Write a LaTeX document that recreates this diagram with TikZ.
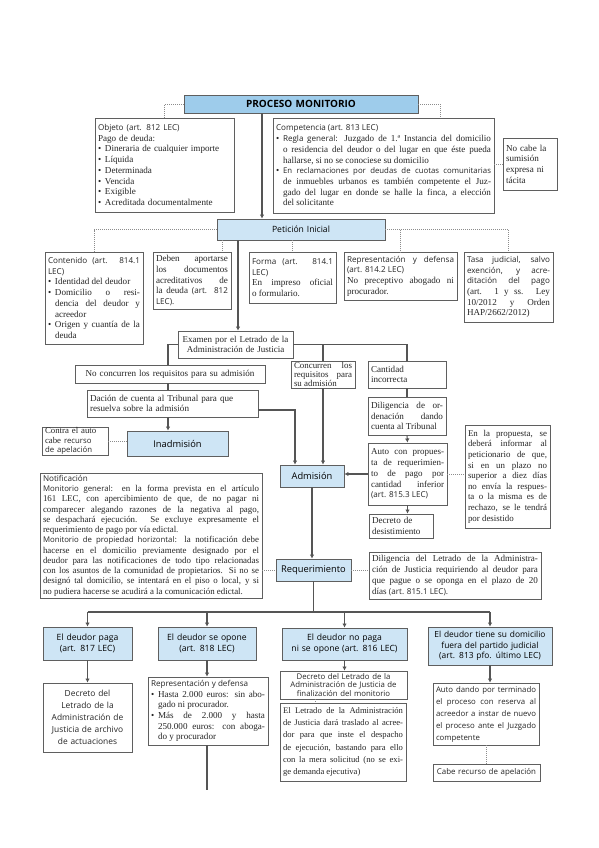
\documentclass[tikz,border=0pt]{standalone}
\usepackage{fontspec}
\setmainfont{Liberation Serif}
\newfontfamily\lab{Open Sans}
\usetikzlibrary{arrows.meta}
\definecolor{bord}{RGB}{95,95,95}
\definecolor{linec}{RGB}{85,85,85}
\definecolor{dotc}{RGB}{140,140,140}
\definecolor{bluet}{RGB}{158,204,235}
\definecolor{bluel}{RGB}{206,229,245}
\newcommand\parset{\tolerance=9999\hbadness=10000\hyphenpenalty=10000\relax}
\newcommand\fsA{\fontsize{9.1}{10.7}\selectfont\parset}
\newcommand\fsN{\fontsize{8.9}{10.25}\selectfont\parset}
\newcommand\fsB{\fontsize{9.3}{11}\selectfont\lab}
\newcommand\fsM{\fontsize{8.6}{10.8}\selectfont\lab}
\newcommand\fsS{\fontsize{8.1}{10.7}\selectfont\lab}
\newcommand\bul{\makebox[7pt][l]{\textbullet}}
\newcommand\hind{\hspace*{7pt}}
\newcommand\bx[7]{%
  \pgfmathsetmacro\bxw{#4-(#2)}%
  \pgfmathsetmacro\bxh{#5-(#3)}%
  \pgfmathsetmacro\bxx{(#2+#4)/2}%
  \pgfmathsetmacro\bxy{(#3+#5)/2}%
  \pgfmathsetmacro\bxt{#4-(#2)-6}%
  \node[#6, minimum width=\bxw pt, minimum height=\bxh pt, text width=\bxt pt] (#1) at (\bxx,\bxy) {#7};}
\begin{document}
\begin{tikzpicture}[x=1pt,y=-1pt,
  box/.style={draw=bord, line width=0.9pt, fill=white, inner xsep=3pt, inner ysep=0pt, text=black!85, font=\fsA, align=justify},
  lbox/.style={box, align=left},
  cbox/.style={box, align=center},
  bbox/.style={box, fill=bluel, align=center, font=\fsM, text=black},
  conn/.style={draw=linec, line width=1.1pt},
  arr/.style={conn, -{Latex[length=4pt,width=4.5pt]}},
  dot/.style={draw=dotc, line width=0.6pt, dash pattern=on 1pt off 1pt}]
\useasboundingbox (0,0) rectangle (599,848);
\fill[white] (0,0) rectangle (599,848);

\bx{title}{184}{95}{418}{113}{bbox, fill=bluet, font=\fontsize{10}{12}\selectfont\lab\bfseries}{PROCESO MONITORIO}
\bx{objeto}{95}{118}{234}{212}{lbox}{{\fsS Objeto (art. 812 LEC)}\\Pago de deuda:\\\bul Dineraria de cualquier importe\\\bul Líquida\\\bul Determinada\\\bul Vencida\\\bul Exigible\\\bul Acreditada documentalmente}
\bx{compet}{273}{118}{494}{213}{box}{{\fsS Competencia (art. 813 LEC)}\newline
\bul{\fsS Regla general}: Juzgado de 1.ª Instancia del domicilio\break
\hind o residencia del deudor o del lugar en que éste pueda\break
\hind hallarse, si no se conociese su domicilio\newline
\bul{\fontsize{7.8}{10.7}\selectfont\lab En reclamaciones por deudas de cuotas comunitarias}\break
\hind de inmuebles urbanos es también competente el Juz-\break
\hind gado del lugar en donde se halle la finca, a elección\break
\hind del solicitante}
\bx{nocabe}{503}{138}{557}{190}{lbox}{No cabe la\\sumisión\\expresa ni\\tácita}

\bx{petic}{217}{219}{385}{240}{bbox}{Petición Inicial}
\bx{conten}{45}{252}{143}{344}{box}{{\fsS Contenido (art. 814.1}\break{\fsS LEC)}\newline\bul Identidad del deudor\newline\bul Domicilio o resi-\break\hind dencia del deudor y\break\hind acreedor\newline\bul Origen y cuantía de la\break\hind deuda}
\bx{deben}{153}{252}{231}{309}{box}{Deben aportarse\break los documentos\break acreditativos de\break la deuda {\fsS (art. 812}\break{\fsS LEC).}}
\bx{forma}{249}{252}{336}{303}{box}{{\fsS Forma (art. 814.1}\break{\fsS LEC)}\newline En impreso oficial\break o formulario.}
\bx{repr}{344}{252}{457}{300}{box}{{\fsS Representación y defensa}\break{\fsS (art. 814.2 LEC)}\newline No preceptivo abogado ni\break procurador.}
\bx{tasa}{464}{252}{553}{322}{box}{{\fsS Tasa judicial, salvo}\break{\fsS exención, y acre-}\break{\fsS ditación del pago}\break (art. 1 y ss. Ley\break 10/2012 y Orden\break HAP/2662/2012)}

\bx{examen}{178}{331}{293}{358}{cbox, font=\fontsize{9}{10.7}\selectfont}{Examen por el Letrado de la\\Administración de Justicia}
\bx{noconc}{75}{365}{265}{383}{cbox}{No concurren los requisitos para su admisión}
\bx{dacion}{87}{390}{258}{417}{lbox}{Dación de cuenta al Tribunal para que\\resuelva sobre la admisión}
\bx{inadm}{127}{431}{228}{456}{bbox, font=\fsB}{Inadmisión}
\bx{contra}{42}{427}{108}{455}{lbox, font=\fontsize{8.8}{9.4}\selectfont}{Contra el auto\\cabe {\fontsize{7.8}{9.4}\selectfont\lab recurso}\\{\fontsize{7.8}{9.4}\selectfont\lab de apelación}}
\bx{concur}{291}{361}{355}{388}{box, font=\fontsize{8.9}{9.4}\selectfont\parset}{Concurren los\break requisitos para\break su admisión}
\bx{cantid}{368}{361}{446}{388}{lbox}{Cantidad\\incorrecta}
\bx{dilig}{368}{397}{446}{435}{box}{Diligencia de or-\break denación dando\break cuenta al Tribunal}
\bx{auto}{368}{443}{447}{505}{box, font=\fontsize{9}{10.7}\selectfont\parset}{Auto con propues-\break ta de requerimien-\break to de pago por\break cantidad inferior\break{\fsS (art. 815.3 LEC)}}
\bx{desist}{369}{514}{433}{538}{lbox}{Decreto de\\desistimiento}
\bx{propu}{465}{425}{550}{528}{box, font=\fontsize{8.9}{10.6}\selectfont\parset}{En la propuesta, se\break deberá informar al\break peticionario de que,\break si en un plazo no\break superior a diez días\break no envía la respues-\break ta o la misma es de\break rechazo, se le tendrá\break por desistido}
\bx{admis}{280}{465}{344}{487}{bbox, font=\fsB}{Admisión}
\bx{notif}{40}{473}{262}{598}{box, font=\fsN}{{\fsS Notificación}\newline
{\fontsize{7.8}{10.25}\selectfont\lab Monitorio general}: en la forma prevista en el artículo\break
161 LEC, con apercibimiento de que, de no pagar ni\break
comparecer alegando razones de la negativa al pago,\break
se despachará ejecución. Se excluye expresamente el\break
requerimiento de pago por vía edictal.\newline
{\fontsize{7.8}{10.25}\selectfont\lab Monitorio de propiedad horizontal}: la notificación debe\break
hacerse en el domicilio previamente designado por el\break
deudor para las notificaciones de todo tipo relacionadas\break
con los asuntos de la comunidad de propietarios. Si no se\break
designó tal domicilio, se intentará en el piso o local, y si\break
no pudiera hacerse se acudirá a la comunicación edictal.}
\bx{requer}{276}{559}{351}{581}{bbox, font=\fsB}{Requerimiento}
\bx{dilet}{369}{552}{541}{599}{box}{Diligencia del Letrado de la Administra-\break
ción de Justicia requiriendo al deudor para\break
que pague o se oponga en el plazo de 20\break
días {\fsS (art. 815.1 LEC)}.}

\bx{paga}{43}{627}{132}{660}{bbox}{El deudor paga\\(art. 817 LEC)}
\bx{opone}{158}{627}{256}{660}{bbox}{El deudor se opone\\(art. 818 LEC)}
\bx{nopaga}{282}{628}{407}{660}{bbox}{El deudor no paga\\ni se opone (art. 816 LEC)}
\bx{tiene}{428}{627}{552}{665}{bbox, font=\fontsize{8.4}{10.6}\selectfont\lab}{El deudor tiene su domicilio\\fuera del partido judicial\\(art. 813 pfo. último LEC)}
\bx{archivo}{43}{683}{132}{752}{cbox, font=\fontsize{8.4}{12}\selectfont\lab}{Decreto del\\Letrado de la\\Administración de\\Justicia de archivo\\de actuaciones}
\bx{repr2}{148}{677}{268}{745}{box}{{\fsS Representación y defensa}\newline
\bul Hasta 2.000 euros: sin abo-\break\hind gado ni procurador.\newline
\bul Más de 2.000 y hasta\break\hind 250.000 euros: con aboga-\break\hind do y procurador}
\bx{final}{280}{671}{407}{699}{cbox, font=\fontsize{7.8}{8.5}\selectfont\lab}{Decreto del Letrado de la\\Administración de Justicia de\\finalización del monitorio}
\bx{letr}{280}{703}{406}{781}{box, font=\fontsize{8.6}{12.2}\selectfont\parset}{El Letrado de la Administración\break de Justicia dará traslado al acree-\break dor para que inste el despacho\break de ejecución, bastando para ello\break con la mera solicitud (no se exi-\break ge demanda ejecutiva)}
\bx{autod}{433}{683}{539}{745}{box, font=\fontsize{7.8}{12}\selectfont\lab\parset}{Auto dando por terminado\break el proceso con reserva al\break acreedor a instar de nuevo\break el proceso ante el Juzgado\break competente}
\bx{cabe}{433}{764}{540}{781}{cbox, font=\fontsize{7.9}{10}\selectfont\lab}{Cabe recurso de apelación}

% coordinates for connector x/y positions
\coordinate (xT) at (262,0);
\coordinate (xC) at (440,0);
\coordinate (xD) at (222,0);
\coordinate (xE) at (238,0);
\coordinate (xL) at (168,0);
\coordinate (xA) at (295,0);
\coordinate (yA) at (0,410);
\coordinate (yB) at (0,612);
\coordinate (yE) at (0,790);
\coordinate (xF) at (315,0);

% top
\draw[arr] (title.south -| xT) -- (petic.north -| xT);
\draw[dot] (title.west) -| (objeto.north);
\draw[dot] (title.east) -| (compet.north -| xC);
\draw[dot] (compet.east |- nocabe.west) -- (nocabe.west);
% peticion
\draw[dot] (petic.west) -| (conten.north);
\draw[dot] (petic.south -| xD) -- (deben.north -| xD);
\draw[dot] (petic.south -| forma.north) -- (forma.north);
\draw[dot] (petic.east) -| (tasa.north);
\draw[dot] (petic.east -| repr.north) -- (repr.north);
\draw[arr] (petic.south -| xE) -- (examen.north -| xE);
% examen
\draw[conn] (examen.west) -| (noconc.north -| xL);
\draw[conn] (examen.east) -| (cantid.north);
\draw[conn] (examen.east -| concur.north) -- (concur.north);
\draw[conn] (noconc.south -| xL) -- (dacion.north -| xL);
\draw[arr] (dacion.south -| xL) -- (inadm.north -| xL);
\draw[arr] (dacion.east |- yA) -| (admis.north -| xA);
\draw[arr] (concur.south) -- (concur.south |- admis.north);
\draw[conn] (cantid.south) -- (dilig.north);
\draw[arr] (dilig.south) -- (auto.north);
\draw[arr] (auto.south) -- (auto.south |- desist.north);
\draw[arr] (auto.west) -- (auto.west -| admis.east);
\draw[dot] (auto.east) -- (auto.east -| propu.west);
\draw[dot] (contra.east) -- (contra.east -| inadm.west);
% admision / requerimiento
\draw[arr] (admis.south) -- (admis.south |- requer.north);
\draw[dot] (notif.east |- requer.west) -- (requer.west);
\draw[dot] (requer.east) -- (requer.east -| dilet.west);
\draw[conn] (requer.south) -- (requer.south |- yB);
\draw[conn] (paga.north |- yB) -- (tiene.north |- yB);
\draw[arr] (paga.north |- yB) -- (paga.north);
\draw[arr] (opone.north |- yB) -- (opone.north);
\draw[arr] (nopaga.north |- yB) -- (nopaga.north);
\draw[arr] (tiene.north |- yB) -- (tiene.north);
% bottom
\draw[arr] (paga.south) -- (archivo.north);
\draw[arr] (opone.south) -- (opone.south |- repr2.north);
\draw[conn] (repr2.south -| opone.south) -- (yE -| opone.south);
\draw[arr] (nopaga.south) -- (nopaga.south |- final.north);
\draw[dot] (final.south -| xF) -- (letr.north -| xF);
\draw[arr] (tiene.south) -- (tiene.south |- autod.north);
\draw[dot] (autod.south) -- (autod.south |- cabe.north);
\end{tikzpicture}
\end{document}
